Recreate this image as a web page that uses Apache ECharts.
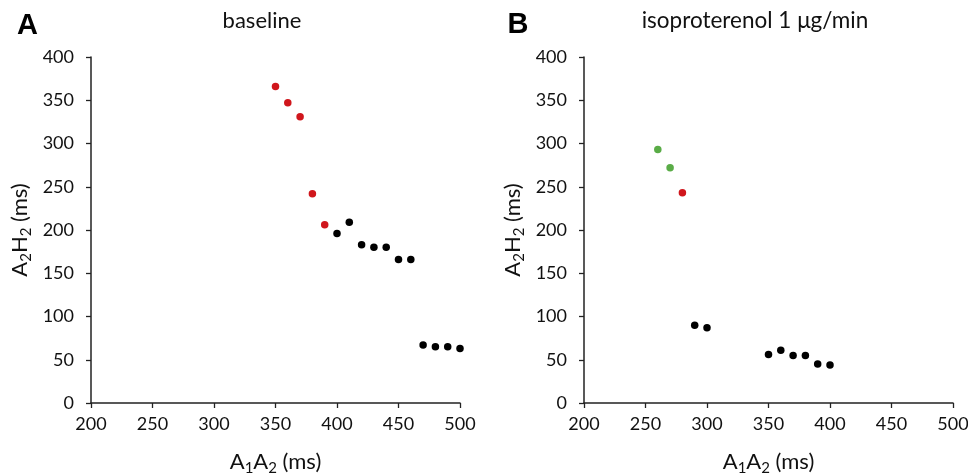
<!DOCTYPE html>
<html>
<head>
<meta charset="utf-8">
<script src="https://cdn.jsdelivr.net/npm/echarts@6/dist/echarts.min.js"></script>
<style>
html,body{margin:0;padding:0;background:#fff;}
#c{width:968px;height:475px;}
</style>
</head>
<body>
<div id="c"></div>
<script>
// Panel A (baseline)
const aRedX = [350, 360, 370, 380, 390];
const aRedY = [366, 347, 331, 242, 206];
const aBlackX = [400, 410, 420, 430, 440, 450, 460, 470, 480, 490, 500];
const aBlackY = [196, 209, 183, 180, 180, 166, 166, 67, 65, 65, 63];
// Panel B (isoproterenol)
const bGreenX = [260, 270];
const bGreenY = [293, 272];
const bRedX = [280];
const bRedY = [243];
const bBlackX = [290, 300, 350, 360, 370, 380, 390, 400];
const bBlackY = [90, 87, 56, 61, 55, 55, 45, 44];
// Axes
const xMin = 200, xMax = 500, xStep = 50;
const yMin = 0, yMax = 400, yStep = 50;
const panelTitles = ['baseline', 'isoproterenol 1 μg/min'];
const panelLetters = ['A', 'B'];

const FONT = 'Lato, "Open Sans", sans-serif';
const TXT = '#111';
const RED = '#d0161c';
const GREEN = '#5aac47';
const BLACK = '#000000';

function zip(xs, ys) { return xs.map((x, i) => [x, ys[i]]); }

const richName = {
  n: { fontFamily: FONT, fontSize: 22, color: TXT, lineHeight: 28 },
  s: { fontFamily: FONT, fontSize: 15, color: TXT, lineHeight: 14, verticalAlign: 'bottom' }
};

function xAxisCfg(idx) {
  return {
    gridIndex: idx, type: 'value', min: xMin, max: xMax, interval: xStep,
    name: '{n|A}{s|1}{n|A}{s|2}{n| (ms)}', nameLocation: 'middle', nameGap: 45,
    nameTextStyle: { rich: richName },
    axisLine: { show: true, onZero: false, lineStyle: { color: '#222', width: 1.5 } },
    axisTick: { show: true, inside: false, length: 5, lineStyle: { color: '#222', width: 1.3 } },
    axisLabel: { margin: 12, fontFamily: FONT, fontSize: 18, color: TXT },
    splitLine: { show: false }
  };
}
function yAxisCfg(idx) {
  return {
    gridIndex: idx, type: 'value', min: yMin, max: yMax, interval: yStep,
    name: '{n|A}{s|2}{n|H}{s|2}{n| (ms)}', nameLocation: 'middle', nameGap: 57,
    nameTextStyle: { rich: richName },
    axisLine: { show: true, onZero: false, lineStyle: { color: '#222', width: 1.5 } },
    axisTick: { show: true, inside: false, length: 5, lineStyle: { color: '#222', width: 1.3 } },
    axisLabel: { margin: 17, fontFamily: FONT, fontSize: 18, color: TXT },
    splitLine: { show: false }
  };
}
function sc(xi, data, color) {
  return {
    type: 'scatter', xAxisIndex: xi, yAxisIndex: xi, data: data,
    symbol: 'circle', symbolSize: 7.5, itemStyle: { color: color, opacity: 1 }, silent: true
  };
}

const chart = echarts.init(document.getElementById('c'), null, { renderer: 'canvas' });
chart.setOption({
  animation: false,
  backgroundColor: '#fff',
  grid: [
    { left: 91, right: 508, top: 57, bottom: 72, outerBoundsMode: 'none', containLabel: false },
    { left: 584, right: 15, top: 57, bottom: 72, outerBoundsMode: 'none', containLabel: false }
  ],
  xAxis: [xAxisCfg(0), xAxisCfg(1)],
  yAxis: [yAxisCfg(0), yAxisCfg(1)],
  series: [
    sc(0, zip(aRedX, aRedY), RED),
    sc(0, zip(aBlackX, aBlackY), BLACK),
    sc(1, zip(bGreenX, bGreenY), GREEN),
    sc(1, zip(bRedX, bRedY), RED),
    sc(1, zip(bBlackX, bBlackY), BLACK)
  ],
  graphic: [
    { type: 'text', x: 27.5, y: 26, style: { text: panelLetters[0], font: 'bold 29px Arial, "Liberation Sans", sans-serif', fill: '#000', align: 'center', verticalAlign: 'middle' } },
    { type: 'text', x: 518, y: 25, style: { text: panelLetters[1], font: 'bold 29px Arial, "Liberation Sans", sans-serif', fill: '#000', align: 'center', verticalAlign: 'middle' } },
    { type: 'text', x: 262, y: 21, style: { text: panelTitles[0], fontFamily: FONT, fontSize: 22, fill: TXT, align: 'center', verticalAlign: 'middle' } },
    { type: 'text', x: 755, y: 21, style: { text: panelTitles[1], fontFamily: FONT, fontSize: 22.5, fill: TXT, align: 'center', verticalAlign: 'middle' } }
  ]
});
</script>
</body>
</html>
